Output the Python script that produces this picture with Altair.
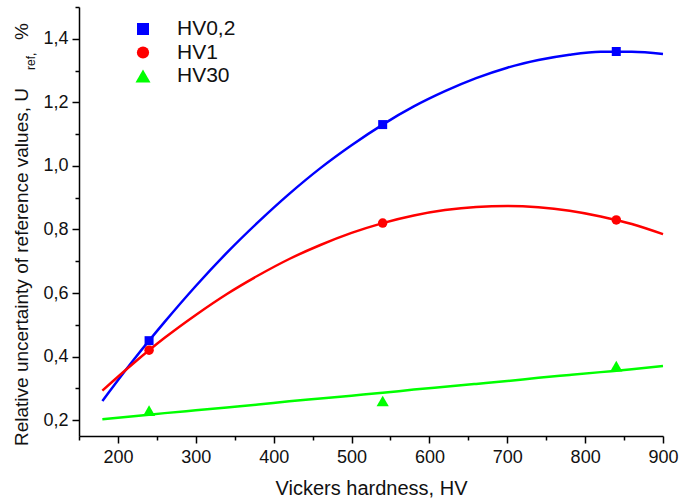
import altair as alt
import pandas as pd

# ---------------- data ----------------
series = ["HV0,2", "HV1", "HV30"]
colors = ["#0000ff", "#ff0000", "#00ff00"]
shapes = ["square", "circle", "triangle-up"]
marker_sizes = [81, 90, 150]
legend_sizes = [144, 150, 225]

# measured points
meas_hv = [240, 540, 840]
meas_hv02 = [0.45, 1.13, 1.36]
meas_hv1 = [0.42, 0.82, 0.83]
meas_hv30 = [0.23, 0.26, 0.37]

# fitted curves
fit_hv = [180, 220, 260, 300, 340, 380, 420, 460, 500, 540,
          580, 620, 660, 700, 740, 780, 820, 860, 900]
fit_hv02 = [0.260, 0.389, 0.509, 0.622, 0.727, 0.823, 0.912, 0.993, 1.065, 1.130,
            1.187, 1.235, 1.276, 1.309, 1.333, 1.350, 1.359, 1.359, 1.352]
fit_hv1 = [0.293, 0.379, 0.459, 0.531, 0.597, 0.655, 0.707, 0.751, 0.789, 0.820,
           0.844, 0.861, 0.871, 0.874, 0.870, 0.859, 0.841, 0.817, 0.785]
fit_hv30 = [0.203, 0.212, 0.222, 0.231, 0.240, 0.249, 0.259, 0.268, 0.277, 0.286,
            0.296, 0.305, 0.314, 0.323, 0.333, 0.342, 0.351, 0.360, 0.370]

x_major = [200, 300, 400, 500, 600, 700, 800, 900]
x_minor = [150, 250, 350, 450, 550, 650, 750, 850]
y_major = [0.2, 0.4, 0.6, 0.8, 1.0, 1.2, 1.4]
y_minor = [0.3, 0.5, 0.7, 0.9, 1.1, 1.3, 1.5]

x_title = "Vickers hardness, HV"
y_title_main = "Relative uncertainty of reference values, U"
y_title_sub = "ref,"
y_title_end = "%"

# ---------------- tables ----------------
pts = pd.DataFrame(
    [{"hv": h, "u": v, "series": s}
     for s, vals in zip(series, [meas_hv02, meas_hv1, meas_hv30])
     for h, v in zip(meas_hv, vals)]
)
fit = pd.DataFrame(
    [{"hv": h, "u": v, "series": s}
     for s, vals in zip(series, [fit_hv02, fit_hv1, fit_hv30])
     for h, v in zip(fit_hv, vals)]
)

FONT = "Liberation Sans"
TXT = "#111111"
xscale = alt.Scale(domain=[150, 900], nice=False, zero=False)
yscale = alt.Scale(domain=[0.15, 1.5], nice=False, zero=False)
ylab = "replace(format(datum.value, '.1f'), '.', ',')"

lines = alt.Chart(fit).mark_line(strokeWidth=2.5, interpolate="monotone").encode(
    x=alt.X("hv:Q", scale=xscale,
            axis=alt.Axis(values=x_major, orient="bottom", title=x_title, format="d",
                          tickSize=7, labelPadding=5, titlePadding=12, labelFlush=False,
                          labelOverlap=False, grid=False)),
    y=alt.Y("u:Q", scale=yscale,
            axis=alt.Axis(values=y_major, orient="left", title=None, labelExpr=ylab,
                          tickSize=7, labelPadding=4, labelFlush=False,
                          labelOverlap=False, grid=False)),
    stroke=alt.Stroke("series:N", scale=alt.Scale(domain=series, range=colors), legend=None),
    detail="series:N",
)

point_layers = []
for i, (s, c, sh, sz) in enumerate(zip(series, colors, shapes, marker_sizes)):
    if i == 0:
        xax = alt.Axis(values=x_minor, orient="bottom", title=None, labels=False,
                       domain=False, tickSize=4, grid=False)
        yax = alt.Axis(values=y_minor, orient="left", title=None, labels=False,
                       domain=False, tickSize=4, grid=False)
    else:
        xax = None
        yax = None
    point_layers.append(
        alt.Chart(pts).transform_filter(alt.datum.series == s)
        .mark_point(filled=True, opacity=1, shape=sh, size=sz, color=c)
        .encode(
            x=alt.X("hv:Q", scale=xscale, axis=xax),
            y=alt.Y("u:Q", scale=yscale, axis=yax),
        )
    )

one = alt.Data(values=[{"k": 1}])
t_main = alt.Chart(one).mark_text(angle=270, align="right", baseline="alphabetic",
                                  font=FONT, fontSize=19, color=TXT,
                                  text=y_title_main).encode(
    x=alt.value(-51), y=alt.value(81))
t_sub = alt.Chart(one).mark_text(angle=270, align="left", baseline="alphabetic",
                                 font=FONT, fontSize=12, color=TXT,
                                 text=y_title_sub).encode(
    x=alt.value(-44), y=alt.value(63))
t_end = alt.Chart(one).mark_text(angle=270, align="left", baseline="alphabetic",
                                 font=FONT, fontSize=19, color=TXT,
                                 text=y_title_end).encode(
    x=alt.value(-51), y=alt.value(33))

# manual legend
legend_layers = []
row_y = [22, 45.5, 69]
for s, c, sh, sz, yy in zip(series, colors, shapes, legend_sizes, row_y):
    legend_layers.append(
        alt.Chart(one).mark_point(filled=True, opacity=1, shape=sh, size=sz, color=c)
        .encode(x=alt.value(64), y=alt.value(yy))
    )
    legend_layers.append(
        alt.Chart(one).mark_text(align="left", baseline="middle", font=FONT,
                                 fontSize=21, color=TXT, text=s)
        .encode(x=alt.value(98), y=alt.value(yy))
    )

chart = alt.layer(lines, *point_layers, t_main, t_sub, t_end, *legend_layers).resolve_axis(
    x="independent", y="independent"
).properties(
    width=584, height=429,
    autosize=alt.AutoSizeParams(type="none"),
    padding={"left": 79, "top": 7, "right": 17, "bottom": 65},
    background="white",
).configure_view(strokeWidth=0).configure_axis(
    domainColor="#000000", domainWidth=1.5, tickColor="#000000", tickWidth=1.5,
    labelFont=FONT, labelFontSize=18, labelColor=TXT,
    titleFont=FONT, titleFontSize=20, titleColor=TXT, titleFontWeight="normal",
)

chart.save("out.html", embed_options={"renderer": "svg", "actions": False})
